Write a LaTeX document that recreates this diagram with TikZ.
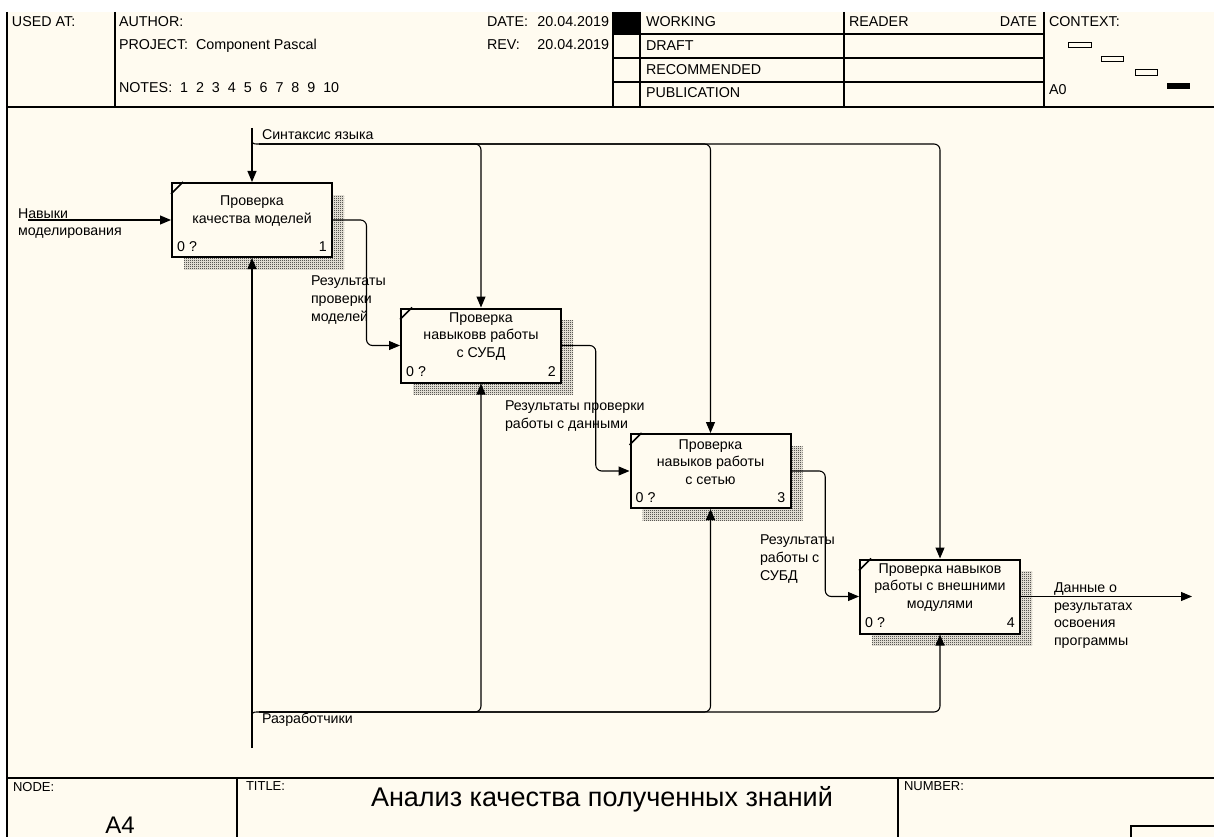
\documentclass[tikz,border=0pt]{standalone}
\usepackage{fontspec}
\setmainfont{Liberation Sans}
\usetikzlibrary{arrows.meta,patterns,shadows,calc}
\definecolor{cream}{RGB}{255,251,240}
\pgfdeclarepatternformonly{checker}{\pgfpointorigin}{\pgfpoint{2pt}{2pt}}{\pgfpoint{2pt}{2pt}}{%
  \pgfpathrectangle{\pgfpointorigin}{\pgfpoint{1pt}{1pt}}%
  \pgfpathrectangle{\pgfpoint{1pt}{1pt}}{\pgfpoint{1pt}{1pt}}%
  \pgfusepath{fill}}
\tikzset{
  lbl/.style={font=\fontsize{14.2}{17.7}\selectfont, inner sep=0pt, outer sep=0pt, align=left, anchor=north west},
  hdr/.style={font=\fontsize{14.3}{16}\selectfont, inner sep=0pt, outer sep=0pt, anchor=north west},
  fbox/.style={draw, line width=2pt, fill=cream, minimum width=160pt, minimum height=74pt, inner sep=0pt,
    general shadow={shadow xshift=12pt, shadow yshift=-12pt, pattern=checker, pattern color=black}},
  btxt/.style={font=\fontsize{14.2}{17.5}\selectfont, align=center, inner sep=0pt},
  bnum/.style={font=\fontsize{14.2}{17}\selectfont, inner sep=0pt},
  wire/.style={line width=1.1pt},
  conn/.style={wire, -{Triangle[length=11pt,width=9pt]}},
  frame/.style={line width=1.1pt},
}
\begin{document}
\begin{tikzpicture}[x=1pt,y=-1pt]
\useasboundingbox (0,0) rectangle (1222,837);
\fill[white] (0,0) rectangle (1222,837);
\fill[cream] (7,12) rectangle (1214,837);

% ---------- header frame ----------
\draw[frame] (7,12) -- (7,837);
\draw[frame] (115,12) -- (115,107);
\draw[frame] (613,12) -- (613,107);
\draw[frame] (640,12) -- (640,107);
\draw[frame] (844,12) -- (844,107);
\draw[frame] (1044,12) -- (1044,107);
\draw[frame] (613,34) -- (1044,34);
\draw[frame] (613,58) -- (1044,58);
\draw[frame] (613,82) -- (1044,82);
\draw[frame] (7,107) -- (1214,107);
\fill[black] (613,12) rectangle (640,34);
\draw[line width=0.9pt] (1068,42.7) rectangle (1091,47.3);
\draw[line width=0.9pt] (1101,56) rectangle (1123,61.7);
\draw[line width=0.9pt] (1135,69.3) rectangle (1157,75);
\fill[black] (1167,82.7) rectangle (1190,89.3);

\node[hdr] (usedat) at (12,16.7) {USED AT:};
\node[hdr] (author) at (119,16.7) {AUTHOR:};
\node[hdr] (project) at (119,39.3) {PROJECT:\ \ Component Pascal};
\node[hdr] (notes) at (119,82.3) {NOTES:\ \ 1\ \ 2\ \ 3\ \ 4\ \ 5\ \ 6\ \ 7\ \ 8\ \ 9\ \ 10};
\node[hdr] (datelbl) at (487,16.7) {DATE:};
\node[hdr, anchor=north east] (dateval) at (609,16.7) {20.04.2019};
\node[hdr] (revlbl) at (487,39.3) {REV:};
\node[hdr, anchor=north east] (revval) at (609,39.3) {20.04.2019};
\node[hdr] (working) at (646,16.7) {WORKING};
\node[hdr] (draft) at (646,40.7) {DRAFT};
\node[hdr] (recommended) at (646,64.3) {RECOMMENDED};
\node[hdr] (publication) at (646,87.7) {PUBLICATION};
\node[hdr] (reader) at (849,16.7) {READER};
\node[hdr, anchor=north east] (rdate) at (1037,16.7) {DATE};
\node[hdr] (context) at (1049,16.7) {CONTEXT:};
\node[hdr] (azero) at (1049,85) {A0};

% ---------- footer ----------
\draw[frame] (7,778) -- (1214,778);
\draw[frame] (237,778) -- (237,837);
\draw[frame] (898,778) -- (898,837);
\draw[frame] (1131,837) -- (1131,826) -- (1214,826);
\node[hdr, font=\fontsize{13}{15}\selectfont] (nodelbl) at (13,782) {NODE:};
\node[hdr, font=\fontsize{13}{15}\selectfont] (titlelbl) at (246,782) {TITLE:};
\node[hdr, font=\fontsize{13}{15}\selectfont] (numberlbl) at (904,782) {NUMBER:};
\node[hdr, anchor=north, font=\fontsize{27}{31}\selectfont] (title) at (602,786) {Анализ качества полученных знаний};
\node[hdr, anchor=north, font=\fontsize{24}{28}\selectfont] (nodeid) at (120,817) {A4};

% ---------- function boxes ----------
\node[fbox] (b1) at (252,220) {};
\node[fbox] (b2) at (481,345.5) {};
\node[fbox] (b3) at (710.5,471) {};
\node[fbox] (b4) at (940,596.5) {};

\foreach \b/\n in {b1/1,b2/2,b3/3,b4/4}{
  \draw[line width=1.5pt] ([yshift=-12pt]\b.north west) -- ([xshift=12pt]\b.north west);
  \node[bnum, anchor=base west] (\b zero) at ([xshift=6pt,yshift=7pt]\b.south west) {0 ?};
  \node[bnum, anchor=base east] (\b num) at ([xshift=-6pt,yshift=7pt]\b.south east) {\n};
}
\node[btxt] (b1t) at ([yshift=-29pt]b1.north) {Проверка\\качества моделей};
\node[btxt] (b2t) at ([yshift=-29pt]b2.north) {Проверка\\навыковв работы\\с СУБД};
\node[btxt] (b3t) at ([yshift=-29pt]b3.north) {Проверка\\навыков работы\\с сетью};
\node[btxt] (b4t) at ([yshift=-29pt]b4.north) {Проверка навыков\\работы с внешними\\модулями};

% ---------- input ----------
\coordinate (instart) at (28,220);
\draw[conn] (instart) -- (b1.west);
\node[lbl] (inlbl) at (18,208.3) {Навыки\\моделирования};

% ---------- control ----------
\coordinate (ctrlstart) at (252,128);
\coordinate (ctrlsplit) at (252,138);
\coordinate (ctrlbus) at (259,144);
\draw[conn] (ctrlstart) -- (b1.north);
\draw[wire] (ctrlsplit) .. controls (252,144) .. (ctrlbus);
\draw[conn, rounded corners=6pt] (ctrlbus) -| (b2.north);
\draw[conn, rounded corners=6pt] (ctrlbus) -| (b3.north);
\draw[conn, rounded corners=6pt] (ctrlbus) -| (b4.north);
\node[lbl] (ctrllbl) at (262,130) {Синтаксис языка};

% ---------- mechanism ----------
\coordinate (mechstart) at (252,748);
\coordinate (mechsplit) at (252,718);
\coordinate (mechbus) at (259,712);
\draw[conn] (mechstart) -- (b1.south);
\draw[wire] (mechsplit) .. controls (252,712) .. (mechbus);
\draw[conn, rounded corners=6pt] (mechbus) -| (b2.south);
\draw[conn, rounded corners=6pt] (mechbus) -| (b3.south);
\draw[conn, rounded corners=6pt] (mechbus) -| (b4.south);
\node[lbl] (mechlbl) at (262,713) {Разработчики};

% ---------- outputs ----------
\draw[conn, rounded corners=6pt] (b1.east) -| ($(b1.east)!0.5!(b2.west)$) |- (b2.west);
\draw[conn, rounded corners=6pt] (b2.east) -| ($(b2.east)!0.5!(b3.west)$) |- (b3.west);
\draw[conn, rounded corners=6pt] (b3.east) -| ($(b3.east)!0.5!(b4.west)$) |- (b4.west);
\coordinate (outend) at (1192,596.5);
\draw[conn] (b4.east) -- (outend);

\node[lbl] (o1lbl) at (311,276) {Результаты\\проверки\\моделей};
\node[lbl] (o2lbl) at (505,400.7) {Результаты проверки\\работы с данными};
\node[lbl] (o3lbl) at (760,535) {Результаты\\работы с\\СУБД};
\node[lbl] (o4lbl) at (1054,582.7) {Данные о\\результатах\\освоения\\программы};
\end{tikzpicture}
\end{document}
